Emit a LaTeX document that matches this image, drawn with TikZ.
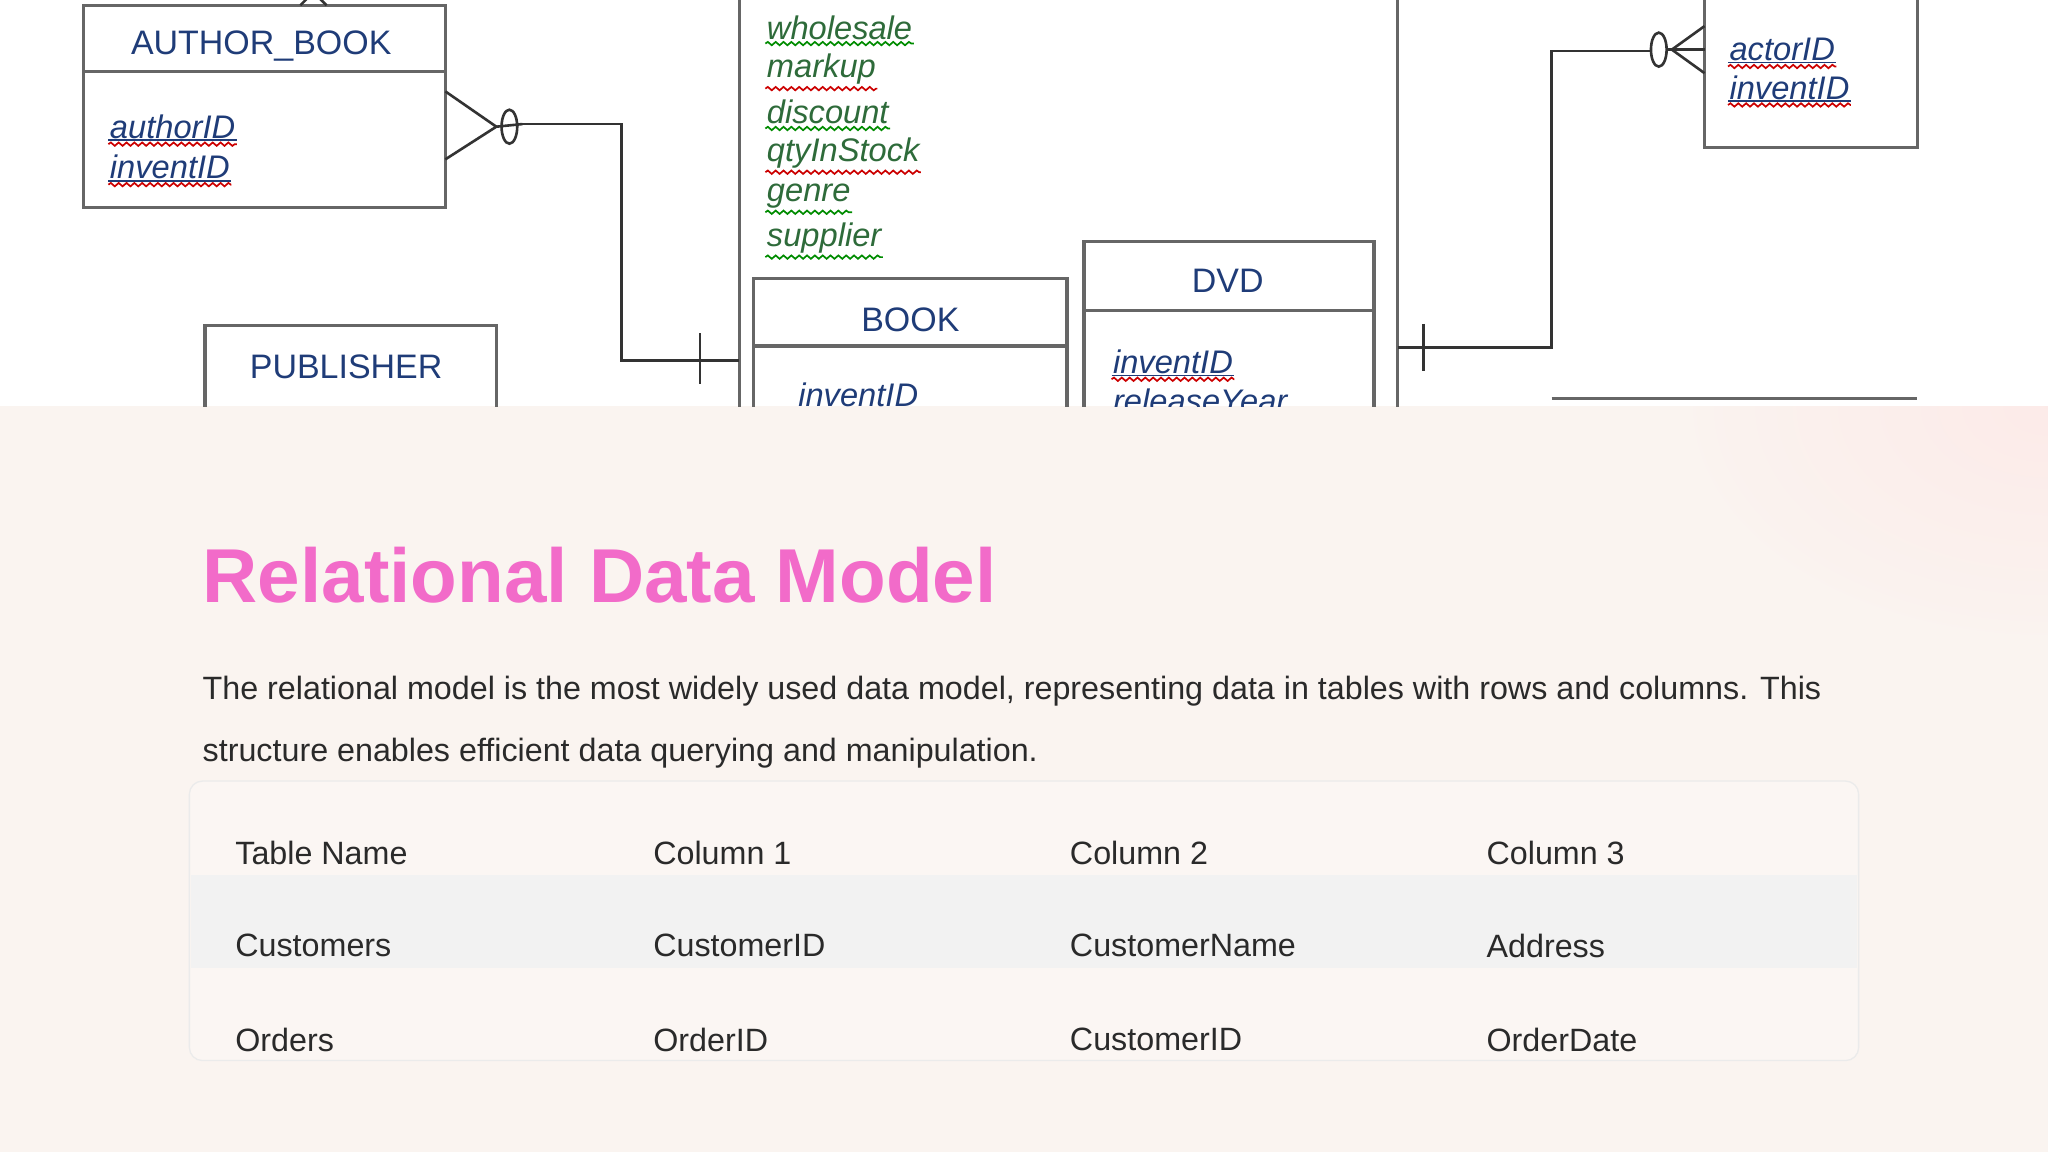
\documentclass[tikz,border=0pt]{standalone}
\usepackage{fontspec}
\setmainfont{Liberation Sans}
\usetikzlibrary{decorations.pathmorphing}
\definecolor{erblue}{HTML}{1F3C78}
\definecolor{ergreen}{HTML}{2E6B3A}
\definecolor{titlepink}{HTML}{F26BC9}
\definecolor{txt}{HTML}{2A2A2A}
\definecolor{bgc}{HTML}{FAF4F0}
\tikzset{
 x=1pt,y=-1pt,
 erbox/.style={draw=gray!80!black,line width=2.5pt},
 erline/.style={draw=black!80,line width=2pt},
 hdr/.style={font=\fontsize{26}{26}\selectfont,text=erblue,anchor=center},
 key/.style={font=\fontsize{25}{25}\itshape,text=erblue,anchor=west,inner sep=1pt},
 att/.style={font=\fontsize{25}{25}\itshape,text=ergreen,anchor=west,inner sep=1pt},
 wavyr/.style={draw=red!80!black,line width=1.3pt,decorate,decoration={snake,amplitude=1.3pt,segment length=6pt}},
 wavyg/.style={draw=green!55!black,line width=1.3pt,decorate,decoration={snake,amplitude=1.3pt,segment length=6pt}},
 body/.style={font=\fontsize{24.7}{24.7}\selectfont,text=txt,anchor=west,inner sep=0pt},
}
\begin{document}
\begin{tikzpicture}
\useasboundingbox (0,0) rectangle (1568,882);
\fill[bgc] (0,311) rectangle (1568,882);
\shade[inner color=pink!45,outer color=bgc,opacity=0.5] (1568,311) ellipse [x radius=280pt,y radius=180pt];
\fill[white] (0,0) rectangle (1568,311);
\begin{scope}
\clip (0,0) rectangle (1568,311);
% AUTHOR_BOOK
\draw[erbox] (64,4) rectangle (341,159);
\draw[erbox] (64,55) -- (341,55);
\node[hdr] (abh) at (200,35) {AUTHOR\_BOOK};
\node[key] (ab1) at (83,97) {authorID};
\node[key] (ab2) at (83,128) {inventID};
\draw[erline] (230,4) -- (240,-6) -- (250,4);
% PUBLISHER
\draw[erbox] (157,249) rectangle (380,320);
\node[hdr] (pub) at (265,281) {PUBLISHER};
% inventory box edges
\draw[erbox] (566,-5) -- (566,320);
\draw[erbox] (1070,-5) -- (1070,320);
\node[att] (a1) at (586,21) {wholesale};
\node[att] (a2) at (586,53) {markup};
\node[att] (a3) at (586,86) {discount};
\node[att] (a4) at (586,117) {qtyInStock};
\node[att] (a5) at (586,150) {genre};
\node[att] (a6) at (586,182) {supplier};
% BOOK
\draw[erbox] (577,213) rectangle (817,330);
\draw[erbox] (577,265) -- (817,265);
\node[hdr] (bk) at (697,245) {BOOK};
\node[key] (bk1) at (610,302) {inventID};
% DVD
\draw[erbox] (830,185) rectangle (1052,330);
\draw[erbox] (830,238) -- (1052,238);
\node[hdr] (dvd) at (940,215) {DVD};
\node[key] (d1) at (851,277) {inventID};
\node[att,text=erblue] (d2) at (851,307) {releaseYear};
% right box
\draw[erbox] (1305,-5) rectangle (1468,113);
\node[key] (r1) at (1323,38) {actorID};
\node[key] (r2) at (1323,67) {inventID};
\draw[erbox] (1188,305) -- (1468,305);
% connectors
\coordinate (c1) at (400,95);
\coordinate (c2) at (476,95);
\coordinate (c3) at (476,276);
\coordinate (c4) at (566,276);
\draw[erline] (341,70) -- (380,97) -- (341,122);
\draw[erline] (c1) -- (c2) -- (c3) -- (c4);
\draw[erline] (380,97) -- (c1);
\draw[erline] (390,97) ellipse [x radius=6pt,y radius=13pt];
\draw[erline] (536,255) -- (536,294);
\coordinate (e1) at (1070,266);
\coordinate (e2) at (1188,266);
\coordinate (e3) at (1188,39);
\coordinate (e4) at (1265,39);
\draw[erline] (e1) -- (e2) -- (e3) -- (e4);
\draw[erline] (1090,248) -- (1090,284);
\draw[erline] (1270,38) ellipse [x radius=6pt,y radius=13pt];
\draw[erline] (1305,20) -- (1280,38) -- (1305,56);
\draw[erline] (1276,38) -- (1305,38);
% underlines
\foreach \n in {ab1,ab2,bk1,d1,r1,r2}{
 \draw[erblue,line width=1.2pt] (\n.south west) -- (\n.south east);
 \draw[wavyr] ([yshift=-3pt]\n.south west) -- ([yshift=-3pt]\n.south east);}
\foreach \n in {a1,a3,a5,a6}{\draw[wavyg] ([yshift=-2pt]\n.south west) -- ([yshift=-2pt]\n.south east);}
\foreach \n in {a2,a4}{\draw[wavyr] ([yshift=-2pt]\n.south west) -- ([yshift=-2pt]\n.south east);}
\end{scope}
% lower part
\node[anchor=west,inner sep=0pt,text=titlepink,font=\fontsize{58.5}{58.5}\selectfont\bfseries] (title) at (155,440) {Relational Data Model};
\node[body] (p1) at (155,529) {The relational model is the most widely used data model, representing data in tables with rows and columns. This};
\node[body] (p2) at (155,577) {structure enables efficient data querying and manipulation.};
\draw[black!8,line width=1pt,fill=white,fill opacity=0.25,rounded corners=10pt] (145,598) rectangle (1423,812);
\fill[black!5,opacity=0.9] (146,670) rectangle (1422,741);
\foreach \r/\y/\a/\b/\c/\d in {h/653/Table Name/Column 1/Column 2/Column 3, c/724/Customers/CustomerID/CustomerName/Address, o/796/Orders/OrderID/CustomerID/OrderDate}{
 \node[body] (\r1) at (180,\y) {\a};
 \node[body] (\r2) at (500,\y) {\b};
 \node[body] (\r3) at (819,\y) {\c};
 \node[body] (\r4) at (1138,\y) {\d};}
\end{tikzpicture}
\end{document}
